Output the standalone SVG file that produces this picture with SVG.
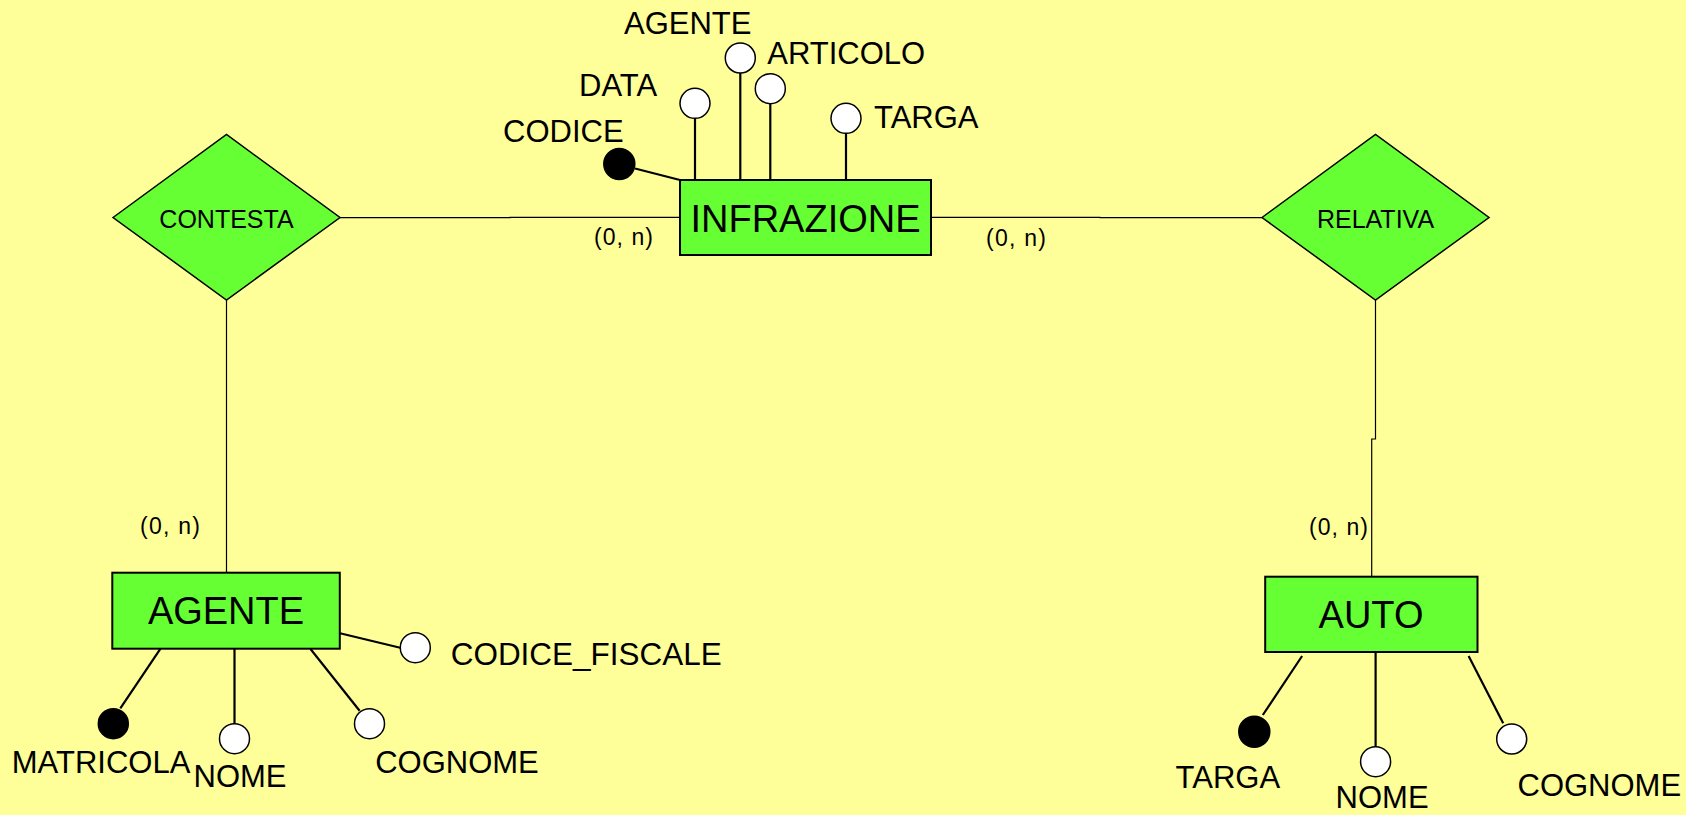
<svg xmlns="http://www.w3.org/2000/svg" width="1686" height="815" viewBox="0 0 1686 815">
<style>
.ent{fill:#66FF33;stroke:#000;stroke-width:2}
.rel{fill:#66FF33;stroke:#000;stroke-width:1.5}
.conn{stroke:#000;stroke-width:1.2;fill:none}
.att{stroke:#000;stroke-width:2.2;fill:none}
.key{fill:#000;stroke:#000;stroke-width:1.5}
.opt{fill:#fff;stroke:#000;stroke-width:1.5}
text{font-family:"Liberation Sans",Arial,sans-serif;fill:#000}
.et{font-size:38px;text-anchor:middle}
.rt{font-size:25px;text-anchor:middle}
.at{font-size:31px}
.ct{font-size:23px}
</style>
<rect x="0" y="0" width="1686" height="815" fill="#FFFF99"/>
<g id="connectors">
<polyline class="conn" points="340,217.7 510,217.7 510,217.3 680,217.3"/>
<polyline class="conn" points="931,217.3 1100,217.3 1100,217.7 1262.5,217.7"/>
<line class="conn" x1="226.5" y1="300" x2="226.5" y2="573"/>
<polyline class="conn" points="1375.5,300 1375.5,439 1371.7,439 1371.7,577"/>
<text class="ct" x="594" y="245" textLength="59" lengthAdjust="spacing">(0, n)</text>
<text class="ct" x="986" y="246" textLength="60" lengthAdjust="spacing">(0, n)</text>
<text class="ct" x="140" y="534" textLength="60" lengthAdjust="spacing">(0, n)</text>
<text class="ct" x="1309" y="535" textLength="59" lengthAdjust="spacing">(0, n)</text>
</g>
<g id="INFRAZIONE">
<line class="att" x1="635" y1="168.5" x2="680" y2="180"/>
<line class="att" x1="695" y1="118" x2="695" y2="180"/>
<line class="att" x1="740.3" y1="73" x2="740.3" y2="180"/>
<line class="att" x1="770.3" y1="104" x2="770.3" y2="180"/>
<line class="att" x1="846" y1="133" x2="846" y2="180"/>
<rect class="ent" x="680" y="180" width="251" height="75"/>
<text class="et" x="805.5" y="232">INFRAZIONE</text>
<circle class="key" cx="619.3" cy="164" r="15.5"/>
<circle class="opt" cx="695" cy="103.3" r="15"/>
<circle class="opt" cx="740.3" cy="58" r="15"/>
<circle class="opt" cx="770.3" cy="88.7" r="15"/>
<circle class="opt" cx="846" cy="118.3" r="15"/>
<text class="at" x="503" y="141.7">CODICE</text>
<text class="at" x="579" y="95.7">DATA</text>
<text class="at" x="624" y="34">AGENTE</text>
<text class="at" x="767.3" y="64">ARTICOLO</text>
<text class="at" x="874" y="128.3">TARGA</text>
</g>
<g id="CONTESTA">
<polygon class="rel" points="113,217.5 226.5,134.5 340,217.5 226.5,300"/>
<text class="rt" x="226.5" y="227.7">CONTESTA</text>
</g>
<g id="RELATIVA">
<polygon class="rel" points="1262,217.5 1375.5,134.5 1489,217.5 1375.5,300"/>
<text class="rt" x="1375.5" y="227.7">RELATIVA</text>
</g>
<g id="AGENTE">
<line class="att" x1="120.3" y1="708.3" x2="160.5" y2="648.7"/>
<line class="att" x1="234.5" y1="649" x2="234.5" y2="724"/>
<line class="att" x1="310.5" y1="649" x2="359.6" y2="710.7"/>
<line class="att" x1="340" y1="633.3" x2="400.2" y2="647.7"/>
<rect class="ent" x="112.3" y="572.7" width="227.5" height="76"/>
<text class="et" x="226" y="624">AGENTE</text>
<circle class="key" cx="113.3" cy="723.7" r="15"/>
<circle class="opt" cx="234.5" cy="738.7" r="15"/>
<circle class="opt" cx="369.5" cy="723.7" r="15"/>
<circle class="opt" cx="415.3" cy="647.7" r="15"/>
<text class="at" x="11.8" y="772.7">MATRICOLA</text>
<text class="at" x="193.5" y="787.3">NOME</text>
<text class="at" x="375.2" y="772.7">COGNOME</text>
<text class="at" x="450.7" y="665.3" textLength="271" lengthAdjust="spacingAndGlyphs">CODICE_FISCALE</text>
</g>
<g id="AUTO">
<line class="att" x1="1262.8" y1="715" x2="1302.1" y2="656"/>
<line class="att" x1="1375.6" y1="648" x2="1375.6" y2="746.7"/>
<line class="att" x1="1468.6" y1="656" x2="1503.2" y2="723.3"/>
<rect class="ent" x="1265.2" y="576.7" width="212.3" height="75.3"/>
<text class="et" x="1371" y="628.3">AUTO</text>
<circle class="key" cx="1254.3" cy="731.7" r="15.5"/>
<circle class="opt" cx="1375.6" cy="761.7" r="15"/>
<circle class="opt" cx="1511.7" cy="739" r="15"/>
<text class="at" x="1175.6" y="787.7">TARGA</text>
<text class="at" x="1335.6" y="808">NOME</text>
<text class="at" x="1517.5" y="796">COGNOME</text>
</g>
</svg>
